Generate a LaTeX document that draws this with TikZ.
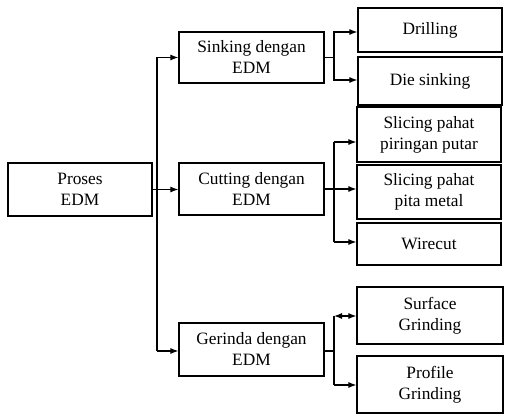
\documentclass[tikz,border=0pt]{standalone}
\usepackage{fontspec}
\setmainfont{Liberation Serif}
\usepackage{tikz}
\usetikzlibrary{arrows.meta}

\begin{document}
\begin{tikzpicture}[x=0.75pt,y=-0.75pt,
  box/.style={draw,line width=0.9pt,align=center,inner sep=0pt,
    font=\fontsize{13}{15.75}\selectfont},
  arr/.style={line width=0.8pt,-{Latex[length=6pt,width=4.5pt]}},
  line/.style={line width=0.8pt}]
\useasboundingbox (0,0) rectangle (510,417);
\node[box,minimum width=108pt,minimum height=39.75pt] (proses) at (80,189.5) {Proses\\EDM};
\node[box,minimum width=108.75pt,minimum height=38.25pt] (sink) at (251.5,57.5) {Sinking dengan\\EDM};
\node[box,minimum width=108.75pt,minimum height=39pt] (cut) at (251.5,189) {Cutting dengan\\EDM};
\node[box,minimum width=108.75pt,minimum height=39.75pt] (ger) at (251.5,349.5) {Gerinda dengan\\EDM};
\node[box,minimum width=108pt,minimum height=33pt] (drill) at (430,30) {Drilling};
\node[box,minimum width=108pt,minimum height=36pt] (die) at (430,81) {Die sinking};
\node[box,minimum width=108pt,minimum height=41.25pt] (slice1) at (429,134.5) {Slicing pahat\\piringan putar};
\node[box,minimum width=108pt,minimum height=40.5pt] (slice2) at (429,192) {Slicing pahat\\pita metal};
\node[box,minimum width=108pt,minimum height=31.5pt] (wire) at (429,244) {Wirecut};
\node[box,minimum width=109.5pt,minimum height=42.75pt] (surf) at (430,315.5) {Surface\\Grinding};
\node[box,minimum width=109.5pt,minimum height=42.75pt] (prof) at (430,384.5) {Profile\\Grinding};
\coordinate (t1) at (157,57.5);
\coordinate (t2) at (157,351);
\draw[line] (t1) -- (t2);
\draw[arr] (proses.east) -- (proses.east -| cut.west);
\draw[arr] (t1) -- (sink.west);
\draw[arr] (t2) -- (t2 -| ger.west);
\coordinate (a1) at (334,32);
\coordinate (a2) at (334,80);
\draw[line] (sink.east) -- (sink.east -| a1);
\draw[arr] (a2) |- (a1) -- (a1 -| drill.west);
\draw[arr] (a1) |- (a2) -- (a2 -| die.west);
\coordinate (c1) at (334,142);
\coordinate (c3) at (334,242);
\draw[line] (c1) -- (c3);
\draw[arr] (cut.east) -- (cut.east -| slice2.west);
\draw[arr] (c1) -- (c1 -| slice1.west);
\draw[arr] (c3) -- (c3 -| wire.west);
\coordinate (g1) at (334,316);
\coordinate (g2) at (334,385);
\draw[line] (t2 -| ger.east) -- (t2 -| g1);
\draw[line] (g1) -- (g2);
\draw[line width=0.8pt,{Latex[length=6pt,width=4.5pt]}-{Latex[length=6pt,width=4.5pt]}] (g1) -- (g1 -| surf.west);
\draw[arr] (g2) -- (g2 -| prof.west);
\end{tikzpicture}
\end{document}
